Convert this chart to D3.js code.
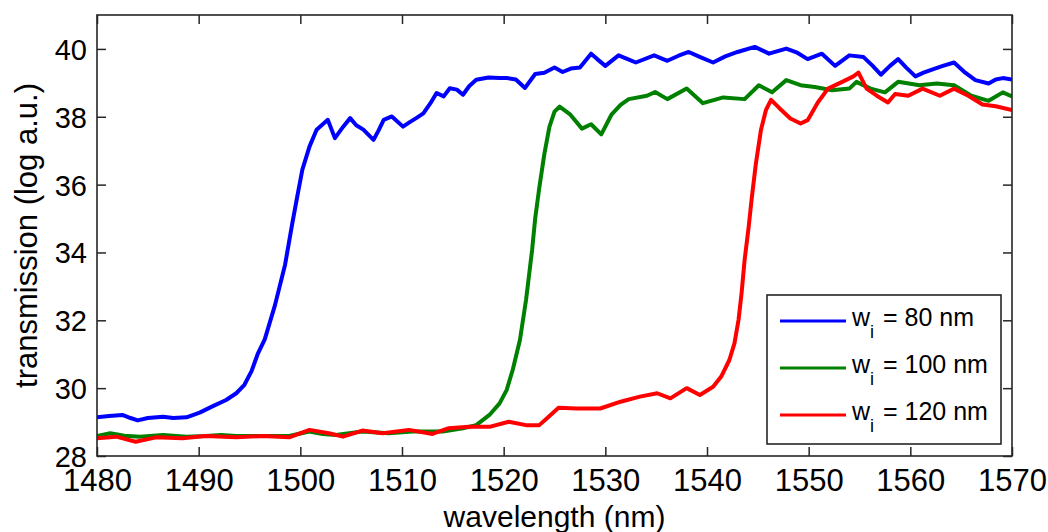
<!DOCTYPE html>
<html>
<head>
<meta charset="utf-8">
<script src="https://cdn.jsdelivr.net/npm/d3@7"></script>
<style>
  html, body { margin: 0; padding: 0; background: #fff; }
  svg { display: block; }
  text { font-family: "Liberation Sans", Arial, sans-serif; fill: #000; }
</style>
</head>
<body>
<svg id="chart" width="1048" height="532"></svg>
<script>
// ---- data ----
const xTicks = [1480, 1490, 1500, 1510, 1520, 1530, 1540, 1550, 1560, 1570];
const yTicks = [28, 30, 32, 34, 36, 38, 40];
const seriesLabels = ["80", "100", "120"];
const seriesColors = ["#0000ff", "#008000", "#ff0000"];

const w80 = [
  [1480,29.14],[1481.2,29.18],[1482.5,29.21],[1483.3,29.12],[1484.0,29.05],[1485.0,29.12],
  [1486.5,29.16],[1487.5,29.12],[1488.8,29.14],[1490.1,29.28],[1491.4,29.47],[1492.7,29.65],
  [1493.7,29.85],[1494.5,30.1],[1495.2,30.5],[1495.8,31.0],[1496.5,31.44],[1497.5,32.44],
  [1498.5,33.64],[1499.2,34.84],[1499.7,35.65],[1500.2,36.44],[1500.9,37.12],[1501.6,37.62],
  [1502.7,37.91],[1503.4,37.37],[1504.2,37.7],[1504.9,37.96],[1505.5,37.75],[1506.2,37.62],
  [1507.2,37.32],[1507.7,37.6],[1508.2,37.91],[1509.0,38.01],[1510.1,37.71],[1510.8,37.85],
  [1511.4,37.96],[1512.1,38.1],[1512.8,38.4],[1513.4,38.7],[1514.1,38.6],[1514.7,38.84],
  [1515.4,38.8],[1516.0,38.65],[1516.6,38.9],[1517.3,39.09],[1518.5,39.16],[1519.6,39.14],
  [1520.3,39.14],[1521.2,39.1],[1522.1,38.85],[1523.1,39.26],[1524.0,39.3],[1525.0,39.45],
  [1525.8,39.32],[1526.6,39.42],[1527.5,39.45],[1528.6,39.86],[1529.2,39.7],[1530.0,39.5],
  [1531.3,39.81],[1532.2,39.7],[1533.0,39.6],[1534.8,39.81],[1536.1,39.65],[1537.2,39.8],
  [1538.2,39.91],[1539.4,39.75],[1540.6,39.6],[1541.8,39.78],[1543.0,39.91],[1544.7,40.06],
  [1546.1,39.86],[1547.8,40.01],[1548.8,39.9],[1549.9,39.7],[1551.3,39.86],[1552.6,39.5],
  [1554.0,39.81],[1555.4,39.76],[1556.3,39.5],[1557.1,39.24],[1558.0,39.5],[1558.8,39.7],
  [1559.6,39.45],[1560.5,39.19],[1561.3,39.3],[1562.2,39.4],[1563.2,39.5],[1564.3,39.6],
  [1565.4,39.3],[1566.4,39.08],[1567.7,38.98],[1568.4,39.1],[1569.1,39.14],[1570,39.1]
];

const w100 = [
  [1480,28.59],[1481.3,28.67],[1482.7,28.6],[1484.2,28.57],[1486.5,28.62],[1488.8,28.57],
  [1490.7,28.59],[1492.2,28.62],[1493.7,28.59],[1496.3,28.59],[1498.9,28.59],[1500.9,28.72],
  [1502.2,28.65],[1503.5,28.62],[1506.1,28.72],[1508.7,28.67],[1511.0,28.72],[1514.0,28.72],
  [1516.0,28.82],[1517.3,28.91],[1518.6,29.21],[1519.6,29.55],[1520.3,29.95],[1520.9,30.55],
  [1521.6,31.42],[1522.2,32.6],[1522.8,34.08],[1523.1,35.0],[1523.5,35.9],[1524.0,36.9],
  [1524.5,37.7],[1525.0,38.15],[1525.5,38.3],[1526.5,38.08],[1527.7,37.65],[1528.6,37.78],
  [1529.6,37.48],[1530.6,38.06],[1531.5,38.35],[1532.3,38.52],[1534.1,38.62],[1534.9,38.73],
  [1536.1,38.52],[1538.0,38.83],[1539.6,38.4],[1541.6,38.57],[1543.7,38.52],[1545.1,38.93],
  [1546.4,38.72],[1547.8,39.08],[1549.2,38.93],[1550.6,38.88],[1552.3,38.78],[1554.0,38.83],
  [1554.7,39.03],[1556.1,38.83],[1557.5,38.72],[1558.8,39.03],[1560.9,38.93],[1562.6,38.98],
  [1564.3,38.93],[1566.0,38.62],[1567.7,38.47],[1569.1,38.72],[1570,38.6]
];

const w120 = [
  [1480,28.52],[1481.9,28.57],[1483.8,28.42],[1485.8,28.55],[1488.4,28.52],[1490.7,28.59],
  [1493.7,28.55],[1496.3,28.59],[1498.9,28.55],[1500.9,28.77],[1502.8,28.67],[1504.2,28.57],
  [1506.1,28.75],[1508.1,28.67],[1510.7,28.77],[1513.0,28.65],[1514.6,28.82],[1516.6,28.86],
  [1518.6,28.86],[1520.5,29.01],[1522.2,28.91],[1523.5,28.91],[1524.4,29.15],[1525.4,29.42],
  [1527.2,29.4],[1529.5,29.4],[1531.5,29.6],[1533.4,29.75],[1535.1,29.85],[1536.4,29.7],
  [1538.0,30.0],[1539.3,29.8],[1540.6,30.04],[1541.4,30.34],[1542.2,30.83],[1542.7,31.32],
  [1543.1,32.01],[1543.4,32.8],[1543.7,33.78],[1544.1,34.76],[1544.4,35.6],[1544.8,36.6],
  [1545.3,37.6],[1545.8,38.2],[1546.3,38.5],[1547.1,38.26],[1548.2,37.95],[1549.2,37.8],
  [1549.9,37.9],[1550.9,38.42],[1551.9,38.83],[1553.3,39.03],[1554.4,39.19],[1554.9,39.3],
  [1555.7,38.83],[1556.7,38.62],[1557.8,38.42],[1558.5,38.67],[1559.8,38.62],[1561.2,38.83],
  [1562.9,38.62],[1564.3,38.83],[1565.7,38.62],[1567.1,38.36],[1568.4,38.31],[1570,38.2]
];

const allSeries = [w80, w100, w120];

// ---- layout ----
const plot = { left: 97, right: 1012, top: 15, bottom: 456 };
const svg = d3.select("#chart");

const x = d3.scaleLinear().domain([1480, 1570]).range([plot.left, plot.right]);
const y = d3.scaleLinear().domain([28, 41]).range([plot.bottom, plot.top]);

svg.append("defs").append("clipPath").attr("id", "clip")
  .append("rect")
  .attr("x", plot.left).attr("y", plot.top)
  .attr("width", plot.right - plot.left).attr("height", plot.bottom - plot.top);

// lines
const line = d3.line().x(d => x(d[0])).y(d => y(d[1]));
const gLines = svg.append("g").attr("clip-path", "url(#clip)");
allSeries.forEach((s, i) => {
  gLines.append("path")
    .datum(s)
    .attr("d", line)
    .attr("fill", "none")
    .attr("stroke", seriesColors[i])
    .attr("stroke-width", 4)
    .attr("stroke-linejoin", "round")
    .attr("stroke-linecap", "butt");
});

// axes (ticks inward on all sides)
const tickLen = 9;
const axStroke = "#262626";
const fmt = d3.format("d");
const xb = svg.append("g").attr("transform", `translate(0,${plot.bottom})`)
  .call(d3.axisBottom(x).tickValues(xTicks).tickFormat(fmt).tickSizeInner(-tickLen).tickSizeOuter(0));
const xt = svg.append("g").attr("transform", `translate(0,${plot.top})`)
  .call(d3.axisTop(x).tickValues(xTicks).tickSizeInner(-tickLen).tickSizeOuter(0).tickFormat(""));
const yl = svg.append("g").attr("transform", `translate(${plot.left},0)`)
  .call(d3.axisLeft(y).tickValues(yTicks).tickFormat(fmt).tickSizeInner(-tickLen).tickSizeOuter(0).tickPadding(10));
const yr = svg.append("g").attr("transform", `translate(${plot.right},0)`)
  .call(d3.axisRight(y).tickValues(yTicks).tickSizeInner(-tickLen).tickSizeOuter(0).tickFormat(""));

[xb, xt, yl, yr].forEach(g => {
  g.select(".domain").remove();
  g.selectAll(".tick line").attr("stroke", axStroke).attr("stroke-width", 1.5);
});
xb.selectAll(".tick text")
  .attr("font-size", 31).attr("fill", "#000")
  .attr("font-family", "Liberation Sans, Arial, sans-serif")
  .attr("dy", null).attr("y", 35);
yl.selectAll(".tick text")
  .attr("font-size", 29).attr("fill", "#000")
  .attr("font-family", "Liberation Sans, Arial, sans-serif")
  .attr("dy", "0.36em");

// frame
svg.append("rect")
  .attr("x", plot.left).attr("y", plot.top)
  .attr("width", plot.right - plot.left).attr("height", plot.bottom - plot.top)
  .attr("fill", "none").attr("stroke", axStroke).attr("stroke-width", 1.6);

// axis titles
svg.append("text")
  .attr("x", (plot.left + plot.right) / 2).attr("y", 527)
  .attr("text-anchor", "middle").attr("font-size", 30)
  .text("wavelength (nm)");
svg.append("text")
  .attr("transform", `translate(37,${(plot.top + plot.bottom) / 2}) rotate(-90)`)
  .attr("text-anchor", "middle").attr("font-size", 31)
  .text("transmission (log a.u.)");

// legend
const leg = { x: 767, y: 295, w: 234, h: 149 };
const gl = svg.append("g");
gl.append("rect")
  .attr("x", leg.x).attr("y", leg.y).attr("width", leg.w).attr("height", leg.h)
  .attr("fill", "#fff").attr("stroke", axStroke).attr("stroke-width", 1.6);
const rowY = [321, 368, 415];
seriesLabels.forEach((lab, i) => {
  gl.append("line")
    .attr("x1", 780).attr("x2", 846).attr("y1", rowY[i]).attr("y2", rowY[i])
    .attr("stroke", seriesColors[i]).attr("stroke-width", 3);
  const t = gl.append("text").attr("x", 852).attr("y", rowY[i] + 5).attr("font-size", 25);
  t.append("tspan").text("w");
  t.append("tspan").attr("font-size", 18).attr("dy", 12).text("i");
  t.append("tspan").attr("dy", -12).attr("dx", 2).text(" = " + lab + " nm");
});
</script>
</body>
</html>
